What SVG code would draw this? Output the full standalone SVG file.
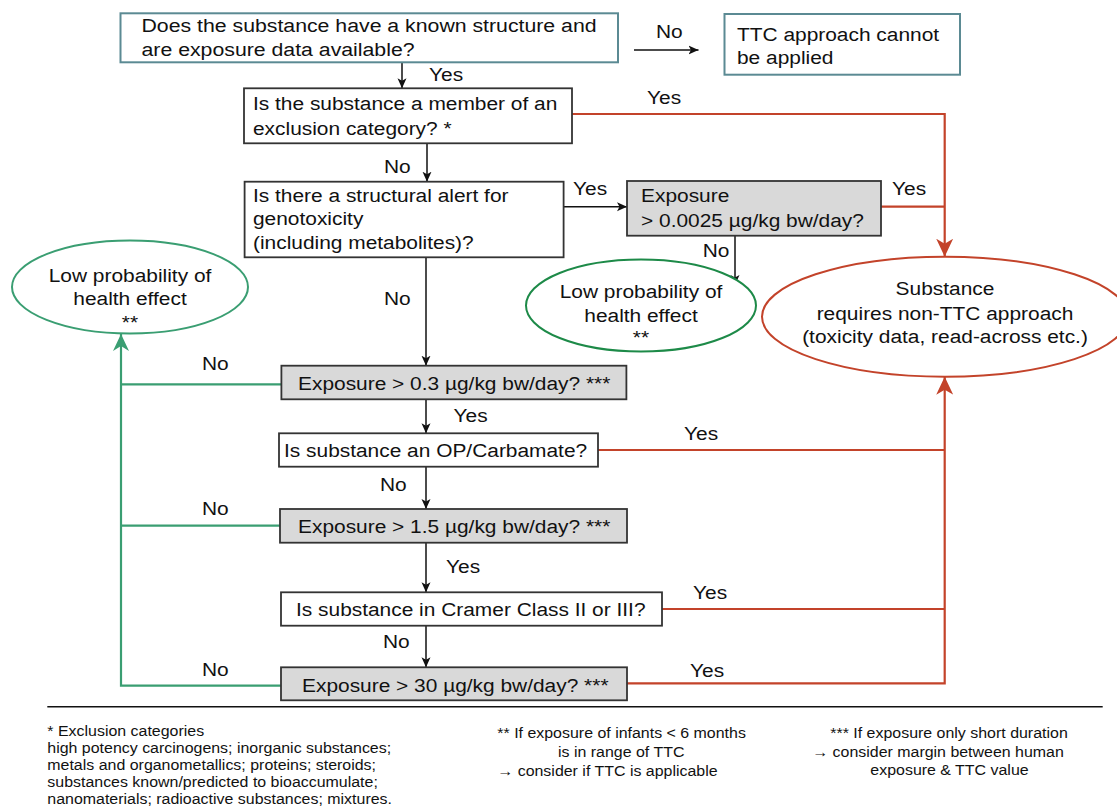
<svg xmlns="http://www.w3.org/2000/svg" width="1117" height="811" viewBox="0 0 1117 811">
<style>
.t{font-family:"Liberation Sans",Arial,Helvetica,sans-serif;font-size:19px;fill:#111}
.f{font-family:"Liberation Sans",Arial,Helvetica,sans-serif;font-size:15px;fill:#111}
.bx{fill:#fff;stroke:#333;stroke-width:1.8}
.bt{fill:#fff;stroke:#5b8a93;stroke-width:2}
.gr{fill:#d9d9d9;stroke:#333;stroke-width:1.8}
.k{fill:none;stroke:#111;stroke-width:1.5}
.r{fill:none;stroke:#c3432a;stroke-width:2.2}
.g{fill:none;stroke:#3a9e72;stroke-width:2.2}
</style>
<defs>
<marker id="ak" viewBox="0 0 10 10" refX="10" refY="5" markerWidth="10" markerHeight="10" markerUnits="userSpaceOnUse" orient="auto"><path d="M0,0.5 L10,5 L0,9.5 L2.5,5 z" fill="#111"/></marker>
<marker id="ar" viewBox="0 0 18 17" refX="18" refY="8.5" markerWidth="18" markerHeight="17" markerUnits="userSpaceOnUse" orient="auto"><path d="M0,0 L18,8.5 L0,17 L5,8.5 z" fill="#c3432a"/></marker>
<marker id="ag" viewBox="0 0 17 16" refX="17" refY="8" markerWidth="17" markerHeight="16" markerUnits="userSpaceOnUse" orient="auto"><path d="M0,0 L17,8 L0,16 L5,8 z" fill="#3a9e72"/></marker>
</defs>
<rect width="1117" height="811" fill="#fff"/>

<g id="connectors">
<path class="k" d="M634,50 H698.5" marker-end="url(#ak)"/>
<path class="k" d="M402,62.3 V88.3" marker-end="url(#ak)"/>
<path class="k" d="M427,143.3 V181.7" marker-end="url(#ak)"/>
<path class="k" d="M563.6,206.7 H627" marker-end="url(#ak)"/>
<path class="k" d="M735,235.7 V285" marker-end="url(#ak)"/>
<path class="k" d="M426,257.3 V365.7" marker-end="url(#ak)"/>
<path class="k" d="M426,399.3 V433.3" marker-end="url(#ak)"/>
<path class="k" d="M426,466.7 V509" marker-end="url(#ak)"/>
<path class="k" d="M426,542.7 V592.3" marker-end="url(#ak)"/>
<path class="k" d="M426,625.7 V667.3" marker-end="url(#ak)"/>
<path class="r" d="M572,114 H944.7 V256.7" marker-end="url(#ar)"/>
<path class="r" d="M881,206.7 H944.7"/>
<path class="r" d="M627,683.3 H944.7 V376.7" marker-end="url(#ar)"/>
<path class="r" d="M598,450 H944.7"/>
<path class="r" d="M662,609 H944.7"/>
<path class="g" d="M281,685.7 H121 V334" marker-end="url(#ag)"/>
<path class="g" d="M281.4,384.3 H121"/>
<path class="g" d="M280,525.7 H121"/>
<text class="t" transform="translate(656,38) scale(1.1,1)">No</text>
<text class="t" transform="translate(429,81) scale(1.1,1)">Yes</text>
<text class="t" transform="translate(647,104) scale(1.1,1)">Yes</text>
<text class="t" transform="translate(384,173) scale(1.1,1)">No</text>
<text class="t" transform="translate(573,195) scale(1.1,1)">Yes</text>
<text class="t" transform="translate(892,195) scale(1.1,1)">Yes</text>
<text class="t" transform="translate(702.7,257) scale(1.1,1)">No</text>
<text class="t" transform="translate(384,305) scale(1.1,1)">No</text>
<text class="t" transform="translate(202,370) scale(1.1,1)">No</text>
<text class="t" transform="translate(453.6,422) scale(1.1,1)">Yes</text>
<text class="t" transform="translate(684,440) scale(1.1,1)">Yes</text>
<text class="t" transform="translate(380,491) scale(1.1,1)">No</text>
<text class="t" transform="translate(202,515) scale(1.1,1)">No</text>
<text class="t" transform="translate(446,573) scale(1.1,1)">Yes</text>
<text class="t" transform="translate(693,599) scale(1.1,1)">Yes</text>
<text class="t" transform="translate(383,648) scale(1.1,1)">No</text>
<text class="t" transform="translate(690,677) scale(1.1,1)">Yes</text>
<text class="t" transform="translate(202,676) scale(1.1,1)">No</text>
</g>

<g id="q-known-structure">
<rect class="bt" x="120.5" y="13.3" width="497.5" height="49"/>
<text class="t" transform="translate(141.5,32) scale(1.12,1)"><tspan x="0" y="0">Does the substance have a known structure and</tspan><tspan x="0" y="24">are exposure data available?</tspan></text>
</g>
<g id="ttc-not-applied">
<rect class="bt" x="724.5" y="14" width="235.5" height="60.7"/>
<text class="t" transform="translate(737,41) scale(1.1,1)"><tspan x="0" y="0">TTC approach cannot</tspan><tspan x="0" y="23">be applied</tspan></text>
</g>
<g id="q-exclusion">
<rect class="bx" x="244" y="88.3" width="328" height="55"/>
<text class="t" transform="translate(253,110) scale(1.1,1)"><tspan x="0" y="0">Is the substance a member of an</tspan><tspan x="0" y="25">exclusion category? *</tspan></text>
</g>
<g id="q-genotox">
<rect class="bx" x="244.6" y="181.7" width="319" height="75.6"/>
<text class="t" transform="translate(253,202) scale(1.1,1)"><tspan x="0" y="0">Is there a structural alert for</tspan><tspan x="0" y="23.5">genotoxicity</tspan><tspan x="0" y="47">(including metabolites)?</tspan></text>
</g>
<g id="q-exp-00025">
<rect class="gr" x="627" y="181" width="254" height="54.7"/>
<text class="t" transform="translate(641,202) scale(1.1,1)"><tspan x="0" y="0">Exposure</tspan><tspan x="0" y="25">&gt; 0.0025 µg/kg bw/day?</tspan></text>
</g>
<g id="low-prob-1">
<ellipse cx="641" cy="305.5" rx="115" ry="46" fill="#fff" stroke="#1d8a48" stroke-width="2"/>
<text class="t" text-anchor="middle" transform="translate(641,298) scale(1.1,1)"><tspan x="0" y="0">Low probability of</tspan><tspan x="0" y="24">health effect</tspan><tspan x="0" y="46">**</tspan></text>
</g>
<g id="non-ttc">
<ellipse cx="945" cy="316.7" rx="183" ry="60" fill="#fff" stroke="#c3432a" stroke-width="2"/>
<text class="t" text-anchor="middle" transform="translate(945,295) scale(1.1,1)"><tspan x="0" y="0">Substance</tspan><tspan x="0" y="25">requires non-TTC approach</tspan><tspan x="0" y="48">(toxicity data, read-across etc.)</tspan></text>
</g>
<g id="low-prob-2">
<ellipse cx="130" cy="287" rx="118" ry="46.5" fill="#fff" stroke="#3a9e72" stroke-width="2"/>
<text class="t" text-anchor="middle" transform="translate(130,282) scale(1.1,1)"><tspan x="0" y="0">Low probability of</tspan><tspan x="0" y="23.5">health effect</tspan><tspan x="0" y="47">**</tspan></text>
</g>
<g id="q-exp-03">
<rect class="gr" x="281.4" y="365.7" width="345" height="33.6"/>
<text class="t" transform="translate(298,390) scale(1.1,1)">Exposure &gt; 0.3 µg/kg bw/day? ***</text>
</g>
<g id="q-op">
<rect class="bx" x="279" y="433.3" width="319" height="33.4"/>
<text class="t" transform="translate(284,457) scale(1.1,1)">Is substance an OP/Carbamate?</text>
</g>
<g id="q-exp-15">
<rect class="gr" x="280" y="509" width="347" height="33.7"/>
<text class="t" transform="translate(298,533) scale(1.1,1)">Exposure &gt; 1.5 µg/kg bw/day? ***</text>
</g>
<g id="q-cramer">
<rect class="bx" x="281" y="592.3" width="381" height="33.4"/>
<text class="t" transform="translate(296,616) scale(1.1,1)">Is substance in Cramer Class II or III?</text>
</g>
<g id="q-exp-30">
<rect class="gr" x="281" y="667.3" width="346" height="33"/>
<text class="t" transform="translate(302,692) scale(1.1,1)">Exposure &gt; 30 µg/kg bw/day? ***</text>
</g>

<g id="footnotes">
<line x1="47.3" y1="706.7" x2="1102.7" y2="706.7" stroke="#111" stroke-width="1.5"/>
<text class="f" transform="translate(47.3,736) scale(1.064,1)"><tspan x="0" y="0">* Exclusion categories</tspan><tspan x="0" y="17">high potency carcinogens; inorganic substances;</tspan><tspan x="0" y="34">metals and organometallics; proteins; steroids;</tspan><tspan x="0" y="51">substances known/predicted to bioaccumulate;</tspan><tspan x="0" y="68">nanomaterials; radioactive substances; mixtures.</tspan></text>
<text class="f" transform="translate(497.3,738.3) scale(1.064,1)">** If exposure of infants &lt; 6 months</text>
<text class="f" transform="translate(558,757) scale(1.064,1)">is in range of TTC</text>
<text class="f" transform="translate(497.3,775.7) scale(1.064,1)">→ consider if TTC is applicable</text>
<text class="f" text-anchor="middle" transform="translate(949,738.3) scale(1.064,1)">*** If exposure only short duration</text>
<text class="f" text-anchor="middle" transform="translate(938,757) scale(1.064,1)">→ consider margin between human</text>
<text class="f" text-anchor="middle" transform="translate(949.5,775.3) scale(1.064,1)">exposure &amp; TTC value</text>
</g>
</svg>
